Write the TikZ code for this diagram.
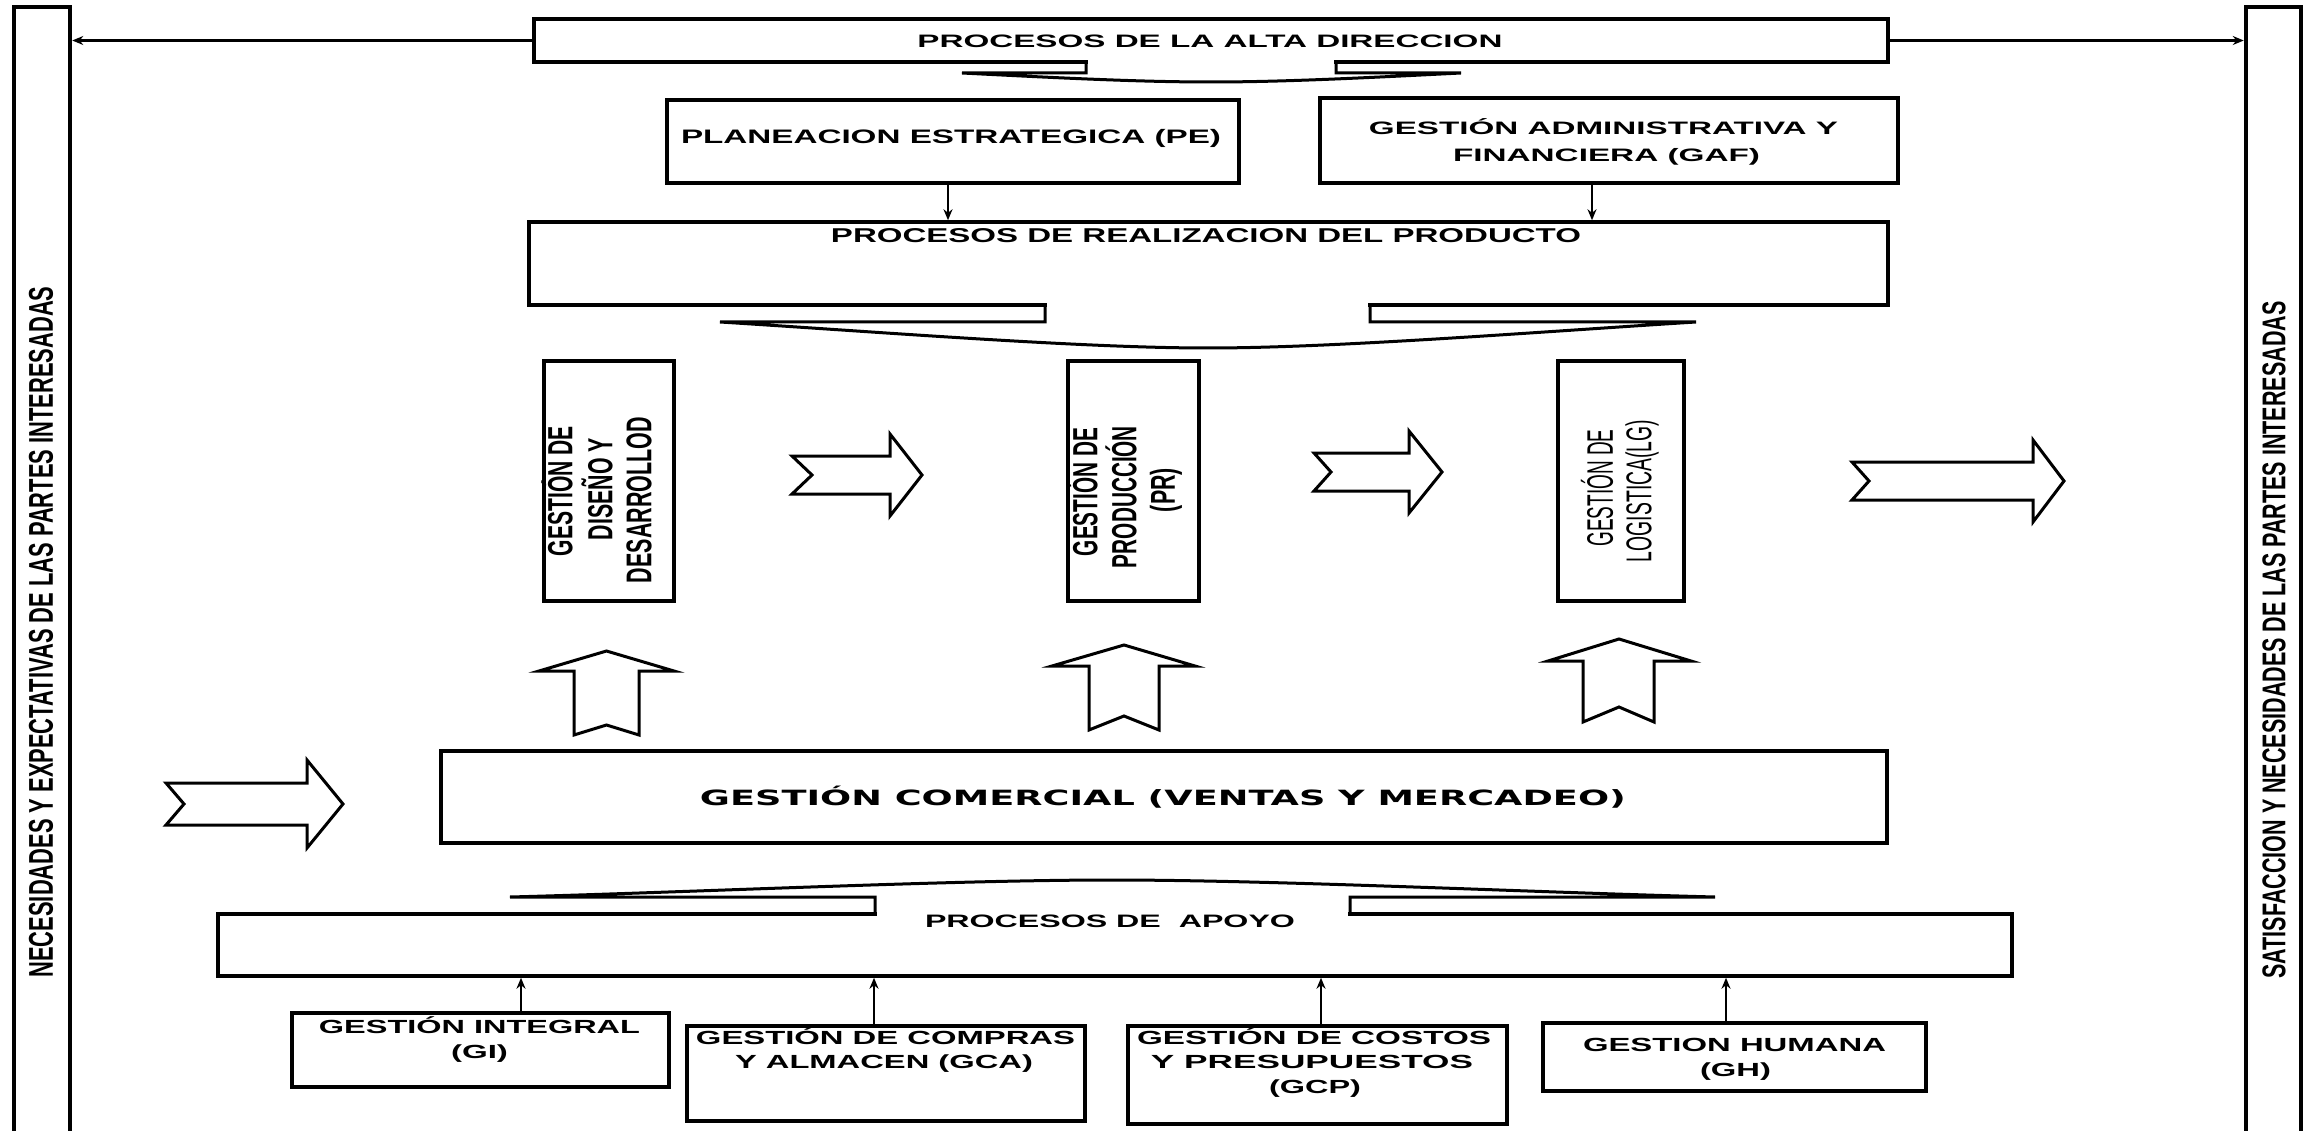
\documentclass[tikz,border=0pt]{standalone}
\usepackage{fontspec}
\setmainfont{Liberation Sans}
\newfontfamily\heavyfont{DejaVu Sans}
\usetikzlibrary{arrows.meta}
\newcommand{\sw}[2]{\resizebox{#1pt}{\height}{#2}}
\newcommand{\swh}[3]{\resizebox{#1pt}{#2pt}{#3}}
\newcommand{\fs}[1]{\fontsize{#1}{#1}\selectfont}
\begin{document}
\begin{tikzpicture}[x=1pt,y=-1pt,
  box/.style={draw, line width=3.5pt, fill=white, inner sep=0pt, rectangle},
  colbox/.style={draw, line width=4.5pt, fill=white, inner sep=0pt, rectangle},
  arr/.style={line width=2.5pt, -{Stealth[length=11pt,width=9pt]}},
  barrow/.style={draw, line width=3pt, fill=white, line join=miter},
  brace/.style={draw, line width=3pt, line join=miter},
  cover/.style={fill=white},
  lbl/.style={inner sep=0pt, anchor=base, font=\bfseries\fs{19}},
  vlbl/.style={inner sep=0pt, rotate=90, font=\bfseries\fs{20}}
]
\path[use as bounding box, clip] (0,0) rectangle (2305,1131);
\fill[white] (0,0) rectangle (2305,1131);

% side columns
\node[colbox, minimum width=56pt, minimum height=1133pt] (leftcol) at (42,573.5) {};
\node[colbox, minimum width=55pt, minimum height=1133pt] (rightcol) at (2273.5,573.5) {};

% boxes
\node[box, minimum width=1354pt, minimum height=43pt] (top) at (1211,40.5) {};
\node[box, minimum width=572pt, minimum height=83pt] (pe) at (953,141.5) {};
\node[box, minimum width=578pt, minimum height=85pt] (gaf) at (1609,140.5) {};
\node[box, minimum width=1359pt, minimum height=83pt] (real) at (1208.5,263.5) {};
\node[box, minimum width=130pt, minimum height=240pt] (v1) at (609,481) {};
\node[box, minimum width=131pt, minimum height=240pt] (v2) at (1133.5,481) {};
\node[box, minimum width=126pt, minimum height=240pt] (v3) at (1621,481) {};
\node[box, minimum width=1446pt, minimum height=92pt] (com) at (1164,797) {};
\node[box, minimum width=1794pt, minimum height=62pt] (apoyo) at (1115,945) {};
\node[box, minimum width=377pt, minimum height=74pt] (gi) at (480.5,1050) {};
\node[box, minimum width=398pt, minimum height=95pt] (gca) at (886,1073.5) {};
\node[box, minimum width=379pt, minimum height=98pt] (gcp) at (1317.5,1075) {};
\node[box, minimum width=383pt, minimum height=68pt] (gh) at (1734.5,1057) {};

% top line with arrows to the columns
\draw[arr] (top.west) -- (top.west -| leftcol.east);
\draw[arr] (top.east) -- (top.east -| rightcol.west);

% arrows PE / GAF -> realizacion
\coordinate (xpe) at (948,0);
\coordinate (xgaf) at (1592,0);
\draw[arr] (pe.south -| xpe) -- (real.north -| xpe);
\draw[arr] (gaf.south -| xgaf) -- (real.north -| xgaf);

% arrows bottom boxes -> apoyo
\coordinate (xgi) at (521,0);
\coordinate (xgca) at (874,0);
\coordinate (xgcp) at (1321,0);
\coordinate (xgh) at (1726,0);
\draw[arr] (gi.north -| xgi) -- (apoyo.south -| xgi);
\draw[arr] (gca.north -| xgca) -- (apoyo.south -| xgca);
\draw[arr] (gcp.north -| xgcp) -- (apoyo.south -| xgcp);
\draw[arr] (gh.north -| xgh) -- (apoyo.south -| xgh);

% braces (callout shapes)
\fill[cover] (1088,58.5) rectangle (1334,66);
\draw[brace] (1086,62) -- (1086,73) -- (962,73) .. controls (1060,78) and (1140,82) .. (1211,82) .. controls (1282,82) and (1362,78) .. (1461,73) -- (1336,73) -- (1336,62);
\fill[cover] (1047,301.5) rectangle (1368,309);
\draw[brace] (1045,305) -- (1045,322) -- (720,322) .. controls (880,332) and (1080,348) .. (1208,348) .. controls (1336,348) and (1536,332) .. (1696,322) -- (1370,322) -- (1370,305);
\fill[cover] (877,910.5) rectangle (1348,918);
\draw[brace] (875,914) -- (875,897) -- (510,897) .. controls (700,892) and (950,880) .. (1112,880) .. controls (1274,880) and (1524,892) .. (1715,897) -- (1350,897) -- (1350,914);

% block arrows (right)
\draw[barrow] (792,456) -- (890,456) -- (890,434) -- (922,475) -- (890,516) -- (890,494) -- (792,494) -- (812,475) -- cycle;
\draw[barrow] (1314,453) -- (1409,453) -- (1409,431) -- (1442,472) -- (1409,513) -- (1409,491) -- (1314,491) -- (1331,472) -- cycle;
\draw[barrow] (1852,462) -- (2033,462) -- (2033,440) -- (2064,481) -- (2033,522) -- (2033,500) -- (1852,500) -- (1869,481) -- cycle;
\draw[barrow] (166,783) -- (307,783) -- (307,760) -- (343,804) -- (307,848) -- (307,825) -- (166,825) -- (184,804) -- cycle;
% block arrows (up)
\draw[barrow] (574,735) -- (574,671) -- (539,671) -- (606.5,651) -- (674,671) -- (639,671) -- (639,735) -- (606.5,725) -- cycle;
\draw[barrow] (1089,730) -- (1089,666) -- (1052,666) -- (1124,645) -- (1195,666) -- (1159,666) -- (1159,730) -- (1124,716) -- cycle;
\draw[barrow] (1583,722) -- (1583,661) -- (1548,661) -- (1619,639) -- (1691,661) -- (1654,661) -- (1654,722) -- (1619,707) -- cycle;

% texts
\node[lbl, font=\bfseries\fs{18}] (tTop) at (1210,47.5) {\sw{585}{PROCESOS DE LA ALTA DIRECCION}};
\node[lbl, font=\bfseries\fs{19.5}] (tPe) at (951,144) {\sw{540}{PLANEACION ESTRATEGICA (PE)}};
\node[lbl, font=\bfseries\fs{18}] (tGaf1) at (1603.5,135) {\sw{469}{GESTIÓN ADMINISTRATIVA Y}};
\node[lbl, font=\bfseries\fs{18}] (tGaf2) at (1606.5,161.5) {\sw{307}{FINANCIERA (GAF)}};
\node[lbl, font=\bfseries\fs{20}] (tReal) at (1206,242.5) {\sw{750}{PROCESOS DE REALIZACION DEL PRODUCTO}};
\node[lbl, font=\heavyfont\bfseries\fs{21}] (tCom) at (1163,805) {\sw{926}{GESTIÓN COMERCIAL (VENTAS Y MERCADEO)}};
\node[lbl, font=\bfseries\fs{18}] (tApoyo) at (1110,927) {\sw{370}{PROCESOS DE\ \ APOYO}};
\node[lbl] (tGi1) at (479.5,1033) {\sw{321}{GESTIÓN INTEGRAL}};
\node[lbl] (tGi2) at (479.5,1058) {\sw{57}{(GI)}};
\node[lbl] (tGca1) at (885.5,1044) {\sw{379}{GESTIÓN DE COMPRAS}};
\node[lbl] (tGca2) at (884,1068) {\sw{298}{Y ALMACEN (GCA)}};
\node[lbl] (tGcp1) at (1314,1044) {\sw{354}{GESTIÓN DE COSTOS}};
\node[lbl] (tGcp2) at (1312,1068) {\sw{322}{Y PRESUPUESTOS}};
\node[lbl] (tGcp3) at (1315,1093) {\sw{92}{(GCP)}};
\node[lbl] (tGh1) at (1734.5,1051) {\sw{303}{GESTION HUMANA}};
\node[lbl] (tGh2) at (1735.5,1076) {\sw{71}{(GH)}};

% vertical texts
\node[vlbl] (tV1a) at (557,491) {\swh{130}{31}{GESTIÓN DE}};
\node[vlbl] (tV1b) at (597,489) {\swh{102}{31}{DISEÑO Y}};
\node[vlbl] (tV1c) at (639,500) {\swh{166}{25}{DESARROLLOD}};
\node[vlbl] (tV2a) at (1082,492) {\swh{128}{31}{GESTIÓN DE}};
\node[vlbl] (tV2b) at (1121,497) {\swh{142}{31}{PRODUCCIÓN}};
\node[vlbl] (tV2c) at (1166,490) {\swh{44}{25}{(PR)}};
\node[vlbl, font=\fs{20}] (tV3a) at (1597,488) {\swh{117}{32}{GESTIÓN DE}};
\node[vlbl, font=\fs{20}] (tV3b) at (1642,491) {\swh{142}{26}{LOGISTICA(LG)}};
\node[vlbl] (tLeft) at (41,632) {\swh{691}{24}{NECESIDADES Y EXPECTATIVAS DE LAS PARTES INTERESADAS}};
\node[vlbl] (tRight) at (2274,640) {\swh{677}{23}{SATISFACCION Y NECESIDADES DE LAS PARTES INTERESADAS}};
\end{tikzpicture}
\end{document}
